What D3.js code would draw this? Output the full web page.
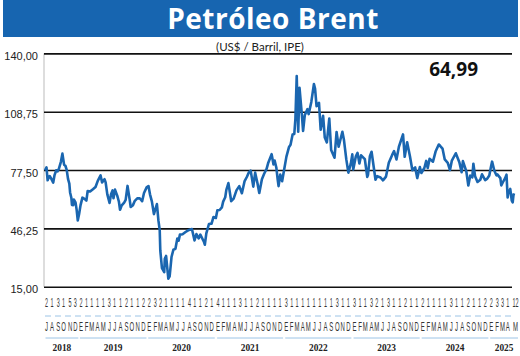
<!DOCTYPE html>
<html><head><meta charset="utf-8">
<script src="https://cdn.jsdelivr.net/npm/d3@7"></script>
<style>body{margin:0;background:#fff}svg{display:block}</style>
</head><body>
<svg id="c" width="520" height="356"></svg>
<script>
const title = "Petróleo Brent";
const subtitle = "(US$ / Barril, IPE)";
const lastValue = "64,99";
const yTicks = [15, 46.25, 77.5, 108.75, 140];
const monthLetters = ["E","F","M","A","M","J","J","A","S","O","N","D"];
const years = [2018,2019,2020,2021,2022,2023,2024,2025];
// first data day shown under each month, Jul 2018 .. May 2025
const monthDays = [
  2,1,3,1,5,3,
  2,1,1,1,1,3,1,1,2,1,1,2,
  2,3,2,1,1,1,1,4,1,1,2,1,
  4,1,1,1,3,1,1,2,1,1,1,1,
  3,1,1,1,1,1,1,1,1,3,1,1,
  3,1,1,3,2,1,3,1,1,2,1,1,
  2,1,1,1,1,3,1,1,2,1,1,2,
  2,3,3,1,12
];
const dates = [
"2018-07-02","2018-07-10","2018-07-16","2018-07-20","2018-07-27","2018-08-03","2018-08-15","2018-08-22","2018-08-31","2018-09-07","2018-09-14","2018-09-25","2018-10-03","2018-10-12","2018-10-19","2018-10-26","2018-11-02","2018-11-09","2018-11-13","2018-11-20","2018-11-23","2018-11-30","2018-12-03","2018-12-12","2018-12-18","2018-12-24","2018-12-31",
"2019-01-08","2019-01-18","2019-01-31","2019-02-08","2019-02-15","2019-02-28","2019-03-15","2019-03-29","2019-04-10","2019-04-25","2019-05-03","2019-05-16","2019-05-22","2019-05-31","2019-06-12","2019-06-20","2019-06-28","2019-07-03","2019-07-11","2019-07-23","2019-08-01","2019-08-07","2019-08-16","2019-08-29","2019-09-06","2019-09-16","2019-09-27","2019-10-03","2019-10-15","2019-10-25","2019-11-07","2019-11-20","2019-12-03","2019-12-13","2019-12-27",
"2020-01-06","2020-01-14","2020-01-24","2020-02-04","2020-02-14","2020-02-20","2020-02-28","2020-03-06","2020-03-09","2020-03-18","2020-03-30","2020-04-02","2020-04-09","2020-04-21","2020-04-28","2020-05-08","2020-05-18","2020-05-29","2020-06-08","2020-06-15","2020-06-22","2020-07-06","2020-07-22","2020-08-05","2020-08-25","2020-09-08","2020-09-18","2020-09-30","2020-10-09","2020-10-28","2020-11-02","2020-11-10","2020-11-24","2020-12-08","2020-12-18","2020-12-31",
"2021-01-08","2021-01-20","2021-02-01","2021-02-08","2021-02-19","2021-02-25","2021-03-08","2021-03-23","2021-04-05","2021-04-20","2021-05-05","2021-05-19","2021-06-02","2021-06-15","2021-06-25","2021-07-05","2021-07-19","2021-07-29","2021-08-10","2021-08-20","2021-09-03","2021-09-15","2021-09-28","2021-10-06","2021-10-25","2021-11-04","2021-11-10","2021-11-19","2021-11-26","2021-12-01","2021-12-10","2021-12-20","2021-12-31",
"2022-01-12","2022-01-26","2022-02-03","2022-02-14","2022-02-23","2022-03-01","2022-03-08","2022-03-16","2022-03-23","2022-04-05","2022-04-11","2022-04-20","2022-05-04","2022-05-11","2022-05-25","2022-06-08","2022-06-14","2022-06-22","2022-07-05","2022-07-14","2022-07-27","2022-08-05","2022-08-16","2022-08-29","2022-09-08","2022-09-26","2022-10-07","2022-10-18","2022-11-07","2022-11-15","2022-11-28","2022-12-09","2022-12-22","2022-12-30",
"2023-01-04","2023-01-18","2023-01-27","2023-02-06","2023-02-15","2023-03-07","2023-03-20","2023-03-24","2023-04-03","2023-04-12","2023-05-03","2023-05-12","2023-05-30","2023-06-12","2023-06-28","2023-07-13","2023-07-31","2023-08-10","2023-08-23","2023-09-05","2023-09-27","2023-10-06","2023-10-19","2023-11-03","2023-11-16","2023-12-01","2023-12-12","2023-12-26",
"2024-01-03","2024-01-19","2024-01-29","2024-02-06","2024-02-16","2024-03-05","2024-03-19","2024-04-05","2024-04-12","2024-04-25","2024-05-07","2024-05-23","2024-06-04","2024-06-14","2024-07-05","2024-07-24","2024-08-05","2024-08-12","2024-08-30","2024-09-10","2024-09-20","2024-10-01","2024-10-07","2024-10-16","2024-10-29","2024-11-13","2024-11-22","2024-12-09","2024-12-20","2024-12-31",
"2025-01-10","2025-01-15","2025-01-27","2025-02-07","2025-02-12","2025-02-28","2025-03-05","2025-03-13","2025-03-25","2025-04-02","2025-04-08","2025-04-11","2025-04-22","2025-04-30","2025-05-05","2025-05-09","2025-05-12"
];
const prices = [
77.3,78.9,72.0,73.1,74.3,73.2,70.8,74.8,77.4,76.8,78.1,81.9,86.3,80.4,79.8,77.6,72.8,70.2,65.5,62.5,58.8,58.7,61.7,60.2,56.3,50.5,53.8,
58.7,62.7,61.9,61.1,66.3,66.0,67.2,68.4,71.7,74.6,70.9,72.6,70.9,64.5,59.9,64.5,66.6,62.4,67.0,63.8,60.5,56.2,58.6,60.1,61.5,69.0,61.9,57.7,58.7,61.0,62.3,62.4,60.8,65.2,68.2,
68.9,64.5,60.7,53.9,57.3,59.3,50.5,45.3,34.4,24.9,22.8,29.9,31.5,19.3,20.5,30.9,34.8,35.3,40.8,39.7,42.9,43.1,44.3,45.2,45.9,39.8,43.2,40.9,42.9,39.1,37.5,43.6,48.6,48.8,52.3,51.8,
56.0,56.1,57.5,60.6,62.9,66.9,70.5,60.8,62.2,66.6,68.9,65.1,71.4,73.9,76.2,77.2,68.6,76.1,70.6,65.2,72.6,75.5,78.1,81.1,86.0,80.5,82.6,78.9,72.7,68.9,75.1,71.5,77.8,
84.7,89.9,91.1,96.5,96.8,105.0,127.9,98.0,121.6,106.6,98.5,106.8,110.1,107.5,114.0,123.6,121.2,111.7,113.5,99.1,106.6,94.9,92.3,105.1,88.2,84.1,97.9,90.0,98.0,93.9,83.2,76.1,80.9,85.9,
77.8,84.9,86.7,81.0,85.4,83.3,73.8,75.0,84.9,87.3,72.3,74.2,73.5,72.0,74.0,81.4,85.6,87.6,83.2,90.0,96.6,84.6,92.4,84.9,77.4,78.9,73.2,79.1,
75.9,78.6,82.4,78.6,83.5,82.0,87.4,91.2,90.5,89.0,83.2,81.4,77.5,82.6,86.5,81.7,76.3,82.3,76.9,69.2,74.5,73.6,80.9,74.2,71.1,72.3,75.2,72.1,72.9,74.6,
79.8,82.0,77.1,74.7,75.2,73.2,69.3,70.9,73.0,75.0,62.8,64.8,67.4,61.1,60.2,63.9,64.99
];

const parse = d3.timeParse("%Y-%m-%d");
const series = dates.map((d,i)=>({date:parse(d), v:prices[i]}));

const svg = d3.select("#c");
const blue = "#1765b0";
const left = 44, right = 512;

// banner
svg.append("rect").attr("x",3).attr("y",0).attr("width",515).attr("height",37).attr("fill",blue);
svg.append("text").attr("x",273).attr("y",29).attr("text-anchor","middle")
  .attr("fill","#fff").attr("font-family","Open Sans, sans-serif").attr("font-weight","bold")
  .attr("font-size",28).attr("letter-spacing","0.5").text(title);
svg.append("text").attr("x",260).attr("y",51).attr("text-anchor","middle")
  .attr("font-family","Lato, sans-serif").attr("font-size",11.5).attr("fill","#222").text(subtitle);

const x = d3.scaleTime().domain([new Date(2018,6,2), new Date(2025,4,12)]).range([45,514]);
const y = d3.scaleLinear().domain([15,140]).range([286.7,53.4]);

// left vertical line
svg.append("line").attr("x1",left).attr("x2",left).attr("y1",y(140)).attr("y2",y(15))
  .attr("stroke","#bbb").attr("stroke-width",1);

const yAxis = d3.axisLeft(y).tickValues(yTicks).tickSize(-(right-left)).tickPadding(6)
  .tickFormat(d=>d3.format(".2f")(d).replace(".",","));
const ga = svg.append("g").attr("transform",`translate(${left},0)`).call(yAxis);
ga.select(".domain").remove();
ga.selectAll(".tick line").attr("stroke","#111").attr("stroke-width",1.6);
ga.selectAll(".tick text").attr("font-family","Liberation Sans, Arial, sans-serif")
  .attr("font-size",11).attr("fill","#222").attr("dy","0.55em");

// price line
svg.append("path").datum(series)
  .attr("d", d3.line().x(d=>x(d.date)).y(d=>y(d.v)))
  .attr("fill","none").attr("stroke","#1a66b0").attr("stroke-width",2.6).attr("stroke-linejoin","round");

svg.append("text").attr("x",478).attr("y",76).attr("text-anchor","end")
  .attr("font-family","Open Sans, sans-serif").attr("font-weight","bold").attr("font-size",19)
  .attr("fill","#111").text(lastValue);

// month axis
const months = monthDays.map((day,i)=>{
  const yr = 2018 + Math.floor((6+i)/12), m = (6+i)%12;
  const dd = new Date(yr, m, day);
  return {yr, m, day, x: x(dd)+1.5};
});
const cond = (g, rows, yy, txt, size, sx) => g.selectAll(null).data(rows).join("text")
  .attr("transform", d=>`translate(${d.x},${yy}) scale(${sx},1)`)
  .attr("text-anchor","middle").attr("font-family","Liberation Sans, Arial, sans-serif")
  .attr("font-size",size).attr("fill","#333").text(txt);
const gx = svg.append("g");
cond(gx, months, 306.5, d=>d.day, 13, 0.42);
cond(gx, months, 331, d=>monthLetters[d.m], 12, 0.5);

svg.append("line").attr("x1",45).attr("x2",right).attr("y1",316).attr("y2",316)
  .attr("stroke","#9cc4e6").attr("stroke-width",1).attr("stroke-dasharray","6,4");

years.forEach(yr=>{
  const ms = months.filter(d=>d.yr===yr);
  const x0 = ms[0].x - 1, x1 = ms[ms.length-1].x + 3;
  svg.append("line").attr("x1",x0).attr("x2",Math.min(x1,518)).attr("y1",338).attr("y2",338)
    .attr("stroke","#9cc4e6").attr("stroke-width",1);
  svg.append("text").attr("transform",`translate(${(x0+Math.min(x1,518))/2},351) scale(0.85,1)`)
    .attr("text-anchor","middle").attr("font-family","Liberation Serif, serif").attr("font-weight","bold")
    .attr("font-size",11).attr("fill","#222").text(yr);
});
</script>
</body></html>
